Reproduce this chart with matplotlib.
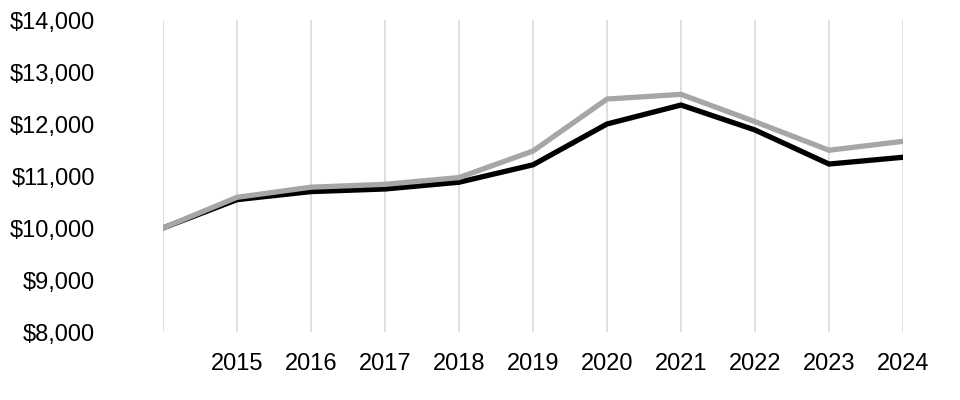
import matplotlib
matplotlib.use('Agg')
from matplotlib import pyplot as plt
from matplotlib.ticker import FuncFormatter

years = [2014, 2015, 2016, 2017, 2018, 2019, 2020, 2021, 2022, 2023, 2024]
year_labels = [''] + [str(y) for y in years[1:]]
fund = [10000, 10545, 10700, 10750, 10880, 11215, 12000, 12365, 11885, 11230, 11360]
index = [10000, 10590, 10785, 10840, 10970, 11480, 12480, 12570, 12045, 11495, 11667]
y_ticks = [8000, 9000, 10000, 11000, 12000, 13000, 14000]

plt.rcParams['font.family'] = ['Liberation Sans Narrow', 'Liberation Sans', 'DejaVu Sans']

fig = plt.figure(figsize=(9.6, 4), dpi=100)
ax = fig.add_axes([163/960, 68/400, 740/960, 312/400])

ax.plot(years, fund, color='black', lw=3.8, solid_joinstyle='miter', zorder=3)
ax.plot(years, index, color='#a6a6a6', lw=3.8, solid_joinstyle='miter', zorder=4)

ax.set_xlim(2014, 2024)
ax.set_ylim(8000, 14000)
ax.set_xticks(years)
ax.set_xticklabels(year_labels)
ax.set_yticks(y_ticks)
ax.yaxis.set_major_formatter(FuncFormatter(lambda v, p: '${:,.0f}'.format(v)))

ax.grid(axis='x', color='#d9d9d9', lw=1.2)
ax.grid(axis='y', visible=False)
for s in ax.spines.values():
    s.set_visible(False)
ax.tick_params(axis='both', length=0, labelsize=17, colors='black')
ax.tick_params(axis='y', pad=49)
ax.tick_params(axis='x', pad=15)

fig.savefig('out.png', dpi=100)
